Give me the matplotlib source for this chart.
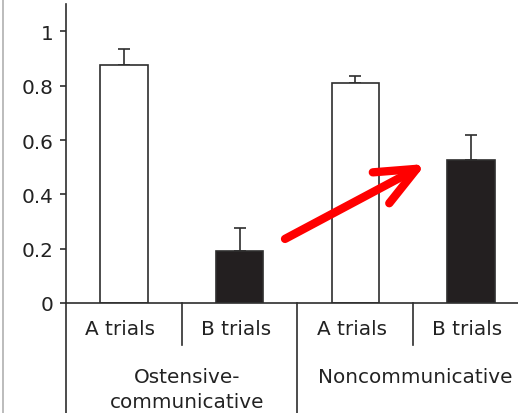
import matplotlib
matplotlib.use("Agg")
import matplotlib.pyplot as plt
from matplotlib.lines import Line2D

# Proportion of correct searches per trial type and condition
trial_labels = ["A trials", "B trials", "A trials", "B trials"]
condition_labels = ["Ostensive-\ncommunicative", "Noncommunicative"]
means = [0.877, 0.19, 0.81, 0.527]
errors = [0.057, 0.086, 0.027, 0.093]
fills = ["white", "#231f20", "white", "#231f20"]
ytick_values = [0, 0.2, 0.4, 0.6, 0.8, 1]
ytick_labels = ["0", "0.2", "0.4", "0.6", "0.8", "1"]

ink = "#222222"
plt.rcParams["font.family"] = ["DejaVu Sans"]
plt.rcParams["font.size"] = 14.4

fig = plt.figure(figsize=(5.18, 4.14), dpi=100)
W, H = 518, 414
ax = fig.add_axes([66 / W, 110 / H, 462.8 / W, 299 / H])

x = list(range(len(means)))
ax.bar(x, means, width=0.41, color=fills, edgecolor="#2e2e2e",
       linewidth=1.2, zorder=2)
ax.errorbar(x, means, yerr=[[0] * len(errors), errors], fmt="none",
            ecolor="#2e2e2e", elinewidth=1.2, capsize=4, capthick=1.2,
            zorder=1)

ax.set_xlim(-0.5, 3.5)
ax.set_ylim(0, 1.101)
ax.set_xticks([])
ax.set_yticks(ytick_values)
ax.set_yticklabels(ytick_labels, color=ink)
ax.tick_params(axis="y", length=4.3, width=1.2, pad=5, color="#2e2e2e")
for side in ("top", "right"):
    ax.spines[side].set_visible(False)
for side in ("left", "bottom"):
    ax.spines[side].set_linewidth(1.2)
    ax.spines[side].set_color("#2e2e2e")

# Category dividers below the axis
xt = ax.get_xaxis_transform()
for xd, y_end in [(-0.5, -0.37), (0.5, -0.14), (1.5, -0.37), (2.5, -0.14)]:
    ax.add_line(Line2D([xd, xd], [0, y_end], transform=xt, color="#2e2e2e",
                       linewidth=1.2, clip_on=False))

# Trial and condition labels
for xi, lab in zip(x, trial_labels):
    ax.text(xi - 0.03, -0.084, lab, transform=xt, ha="center", va="center",
            color=ink)
ax.text(0.55, -0.215, condition_labels[0], transform=xt, ha="center",
        va="top", multialignment="center", color=ink, linespacing=1.38)
ax.text(2.52, -0.215, condition_labels[1], transform=xt, ha="center",
        va="top", color=ink)

# Red arrow pointing at the noncommunicative B-trial bar
ax.annotate("", xy=(2.61, 0.512), xytext=(1.393, 0.236),
            arrowprops=dict(arrowstyle="->,head_length=29,head_width=12.6",
                            mutation_scale=1, lw=6, color="#ff0000",
                            capstyle="round", joinstyle="round",
                            shrinkA=0, shrinkB=0),
            annotation_clip=False, zorder=5)

# Thin border line along the left edge
fig.add_artist(Line2D([3 / W, 3 / W], [0, 1], transform=fig.transFigure,
                      color="#b0b0b0", linewidth=1.2))

fig.savefig("out.png", dpi=100)
